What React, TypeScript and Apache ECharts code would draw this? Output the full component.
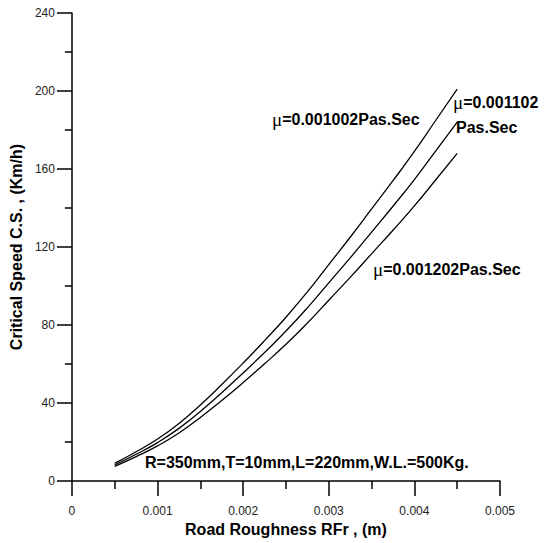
import React, { useEffect, useRef } from "react";
import * as echarts from "echarts";

// Road roughness RFr (m)
const roughness = [
  0.0005, 0.00075, 0.001, 0.00125, 0.0015, 0.00175, 0.002, 0.00225, 0.0025,
  0.00275, 0.003, 0.00325, 0.0035, 0.00375, 0.004, 0.00425, 0.0045,
];

// Critical speed (Km/h) for each oil viscosity
const speedMu1002 = [
  9, 15, 21.5, 29.5, 39, 49.5, 60.5, 72, 84, 97, 111, 125, 139.5, 154, 169, 185, 201,
];
const speedMu1102 = [
  8.2, 13.7, 19.7, 27, 35.7, 45.3, 55.4, 65.9, 76.9, 88.8, 101.6, 114.4, 127.6,
  140.9, 154.6, 169.3, 184,
];
const speedMu1202 = [
  7.5, 12.5, 18, 24.6, 32.6, 41.3, 50.5, 60.1, 70.1, 81, 92.7, 104.4, 116.5,
  128.6, 141.1, 154.5, 168,
];

const xTitle = "Road Roughness RFr , (m)";
const yTitle = "Critical Speed C.S. , (Km/h)";
const muLabels = ["=0.001002Pas.Sec", "=0.001102", "Pas.Sec", "=0.001202Pas.Sec"];
const conditions = "R=350mm,T=10mm,L=220mm,W.L.=500Kg.";

const FONT = "'Liberation Sans', Arial, sans-serif";

const richMu = {
  mu: {
    fontFamily: "'Liberation Serif', 'DejaVu Serif', serif",
    fontSize: 19,
    fontWeight: "normal",
    fill: "#000",
  },
  b: { fontFamily: FONT, fontSize: 16, fontWeight: "bold", fill: "#000" },
} as any;

function toPairs(ys: number[]) {
  return roughness.map((x, i) => [x, ys[i]]);
}

export default function App() {
  const ref = useRef<HTMLDivElement>(null);

  useEffect(() => {
    document.body.style.margin = "0";
    if (!ref.current) return;
    const chart = echarts.init(ref.current, null, { renderer: "svg" });

    const lineSeries = (name: string, ys: number[]) => ({
      name,
      type: "line",
      data: toPairs(ys),
      smooth: true,
      showSymbol: false,
      lineStyle: { color: "#000", width: 1.3 },
    });

    chart.setOption({
      animation: false,
      backgroundColor: "#fff",
      grid: { left: 69, right: 47, top: 13, bottom: 62 },
      xAxis: {
        type: "value",
        min: 0,
        max: 0.005,
        interval: 0.001,
        name: xTitle,
        nameLocation: "middle",
        nameGap: 40,
        nameTextStyle: { fontFamily: FONT, fontSize: 16, fontWeight: "bold", color: "#000" },
        axisLine: { show: true, onZero: false, lineStyle: { color: "#000", width: 1.5 } },
        axisTick: { show: true, inside: false, length: 15, lineStyle: { color: "#000", width: 1.5 } },
        minorTick: { show: true, splitNumber: 2, length: 8, lineStyle: { color: "#000", width: 1.5 } },
        axisLabel: {
          margin: 24,
          fontFamily: FONT,
          fontSize: 12,
          color: "#222",
          formatter: (v: number) => (v === 0 ? "0" : v.toFixed(3)),
        },
        splitLine: { show: false },
      },
      yAxis: {
        type: "value",
        min: 0,
        max: 240,
        interval: 40,
        name: yTitle,
        nameLocation: "middle",
        nameGap: 44,
        nameTextStyle: { fontFamily: FONT, fontSize: 16, fontWeight: "bold", color: "#000" },
        axisLine: { show: true, onZero: false, lineStyle: { color: "#000", width: 1.5 } },
        axisTick: { show: true, inside: false, length: 15, lineStyle: { color: "#000", width: 1.5 } },
        minorTick: { show: true, splitNumber: 2, length: 7, lineStyle: { color: "#000", width: 1.5 } },
        axisLabel: { margin: 17, fontFamily: FONT, fontSize: 12, color: "#222" },
        splitLine: { show: false },
      },
      series: [
        lineSeries("μ=0.001002", speedMu1002),
        lineSeries("μ=0.001102", speedMu1102),
        lineSeries("μ=0.001202", speedMu1202),
      ],
      graphic: [
        {
          type: "text",
          left: 272,
          top: 110,
          style: { text: `{mu|μ}{b|${muLabels[0]}}`, rich: richMu },
        },
        {
          type: "text",
          left: 453,
          top: 93,
          style: { text: `{mu|μ}{b|${muLabels[1]}}`, rich: richMu },
        },
        {
          type: "text",
          left: 456,
          top: 119,
          style: { text: muLabels[2], font: `bold 16px ${FONT}`, fill: "#000" },
        },
        {
          type: "text",
          left: 373,
          top: 260,
          style: { text: `{mu|μ}{b|${muLabels[3]}}`, rich: richMu },
        },
        {
          type: "text",
          left: 145,
          top: 454,
          style: { text: conditions, font: `bold 16px ${FONT}`, fill: "#000" },
        },
      ],
    });

    return () => chart.dispose();
  }, []);

  return <div ref={ref} style={{ width: 547, height: 543 }} />;
}
